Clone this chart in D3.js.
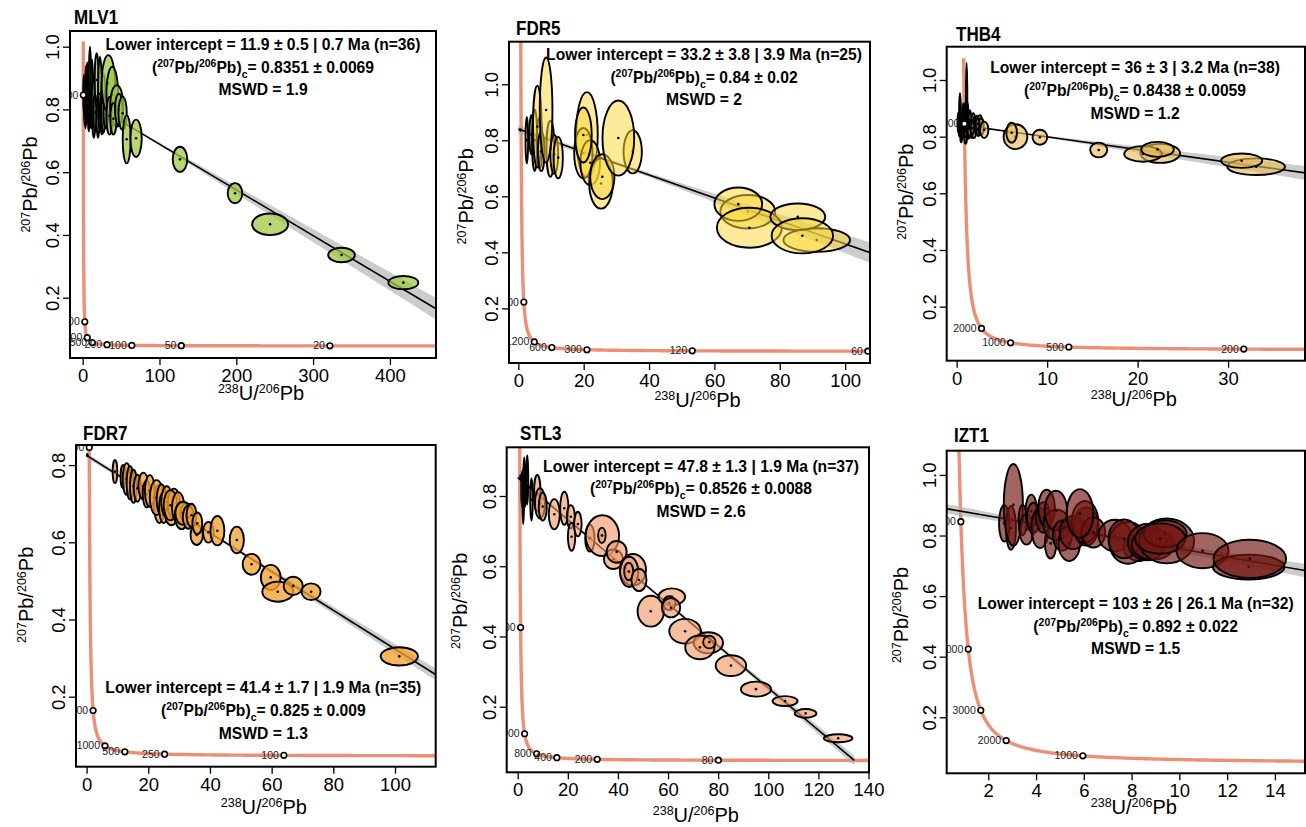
<!DOCTYPE html>
<html>
<head>
<meta charset="utf-8">
<script src="https://cdn.jsdelivr.net/npm/d3@7"></script>
<style>
body { margin: 0; background: #fff; }
svg { font-family: 'Liberation Sans', Arial, Helvetica, sans-serif; }
</style>
</head>
<body>
<svg id="chart" width="1306" height="827"></svg>
<script>
// sample names and fit results
var samples = ["MLV1", "FDR5", "THB4", "FDR7", "STL3", "IZT1"];
var interceptAge = ["11.9", "33.2", "36", "41.4", "47.8", "103"];
var interceptErr = ["0.5", "3.8", "3", "1.7", "1.3", "26"];
var interceptErr2 = ["0.7", "3.9", "3.2", "1.9", "1.9", "26.1"];
var nPoints = [36, 25, 38, 35, 37, 32];
var commonPb = ["0.8351", "0.84", "0.8438", "0.825", "0.8526", "0.892"];
var commonPbErr = ["0.0069", "0.02", "0.0059", "0.009", "0.0088", "0.022"];
var mswd = ["1.9", "2", "1.2", "1.3", "2.6", "1.5"];

// tick labels
var mlv1XTicks = [0, 100, 200, 300, 400];
var fdr5XTicks = [0, 20, 40, 60, 80, 100];
var thb4XTicks = [0, 10, 20, 30];
var fdr7XTicks = [0, 20, 40, 60, 80, 100];
var stl3XTicks = [0, 20, 40, 60, 80, 100, 120, 140];
var izt1XTicks = [2, 4, 6, 8, 10, 12, 14];
var yTicksFull = [0.2, 0.4, 0.6, 0.8, 1.0];
var yTicksShort = [0.2, 0.4, 0.6, 0.8];

// concordia age labels (Ma)
var mlv1Ages = [5000, 2000, 1000, 500, 200, 100, 50, 20];
var fdr5Ages = [3000, 1200, 600, 300, 120, 60];
var thb4Ages = [5000, 2000, 1000, 500, 200];
var fdr7Ages = [5000, 2500, 1000, 500, 250, 100];
var stl3Ages = [4000, 2000, 800, 400, 200, 80];
var izt1Ages = [5000, 4000, 3000, 2000, 1000];

// error ellipses: centre (238U/206Pb, 207Pb/206Pb) and half axes
var mlv1X  = [2, 8, 14.5, 10.5, 1.5, 2.5, 3.7, 4.5, 5.2, 6, 7.4, 9.5, 11, 12, 13.9, 16, 18.2, 20, 22.5, 25, 27, 30, 33.4, 38.5, 35, 44.3, 40, 47, 52, 57.3, 69.5, 126.7, 198.3, 244, 337, 417.5];
var mlv1Y  = [0.86, 0.78, 0.76, 0.84, 0.85, 0.82, 0.79, 0.88, 0.836, 0.86, 0.81, 0.883, 0.80, 0.86, 0.83, 0.79, 0.894, 0.78, 0.85, 0.79, 0.82, 0.80, 0.883, 0.846, 0.78, 0.811, 0.77, 0.80, 0.788, 0.705, 0.708, 0.641, 0.533, 0.434, 0.336, 0.248];
var mlv1Sx = [0.6, 1.2, 1.8, 1.3, 0.8, 0.8, 1, 1, 1.2, 1.2, 1.5, 1.5, 1.5, 1.6, 2, 2, 2.5, 2, 2.5, 2.5, 3, 3, 8.7, 7.6, 4, 8.7, 4, 5, 5.4, 5.2, 7.4, 9.5, 9.5, 23.4, 17.4, 19.5];
var mlv1Sy = [0.04, 0.05, 0.05, 0.07, 0.06, 0.07, 0.05, 0.06, 0.08, 0.09, 0.048, 0.117, 0.06, 0.1, 0.075, 0.06, 0.085, 0.07, 0.117, 0.07, 0.095, 0.06, 0.09, 0.09, 0.06, 0.066, 0.05, 0.05, 0.053, 0.077, 0.0595, 0.04, 0.032, 0.0345, 0.023, 0.021];

var fdr5X  = [0.7, 2.6, 4, 5, 6.5, 5.8, 7, 9.8, 11, 8.5, 12.2, 21, 19.9, 22, 19.9, 25.3, 25.7, 35, 30.6, 70.2, 67.3, 70.7, 91.3, 85.5, 86.9];
var fdr5Y  = [0.837, 0.80, 0.82, 0.80, 0.79, 0.849, 0.76, 0.77, 0.75, 0.908, 0.738, 0.82, 0.754, 0.72, 0.819, 0.646, 0.67, 0.759, 0.808, 0.545, 0.572, 0.488, 0.444, 0.527, 0.459];
var fdr5Sx = [0.15, 0.4, 0.6, 0.8, 0.9, 1.3, 1.0, 1.2, 1.2, 1.94, 1.43, 3.3, 2.8, 3, 2.55, 3.6, 3.7, 2.8, 4.85, 8.4, 7.3, 9.95, 10.2, 8.4, 9.4];
var fdr5Sy = [0.003, 0.083, 0.07, 0.11, 0.09, 0.146, 0.07, 0.10, 0.07, 0.1875, 0.074, 0.152, 0.09, 0.08, 0.098, 0.09, 0.08, 0.077, 0.134, 0.06, 0.0595, 0.0714, 0.042, 0.0476, 0.0625];

var thb4X  = [0.18, 0.37, 0.55, 0.73, 0.92, 1.1, 1.1, 1.29, 1.47, 1.66, 1.84, 2.0, 2.2, 2.4, 2.57, 0.5, 0.8, 1.0, 1.4, 1.9, 2.7, 0.3, 1.2, 0.65, 1.6, 2.3, 1.75, 0.95, 3.05, 6.5, 6.08, 9.2, 15.7, 22.5, 20.6, 22.2, 33.1, 31.5];
var thb4Y  = [0.85, 0.882, 0.828, 0.862, 0.82, 0.925, 0.85, 0.82, 0.855, 0.82, 0.853, 0.84, 0.85, 0.83, 0.85, 0.80, 0.84, 0.80, 0.83, 0.82, 0.835, 0.83, 0.87, 0.84, 0.84, 0.845, 0.83, 0.88, 0.824, 0.80, 0.814, 0.798, 0.753, 0.741, 0.739, 0.755, 0.694, 0.715];
var thb4Sx = [0.08, 0.1, 0.12, 0.1, 0.15, 0.08, 0.15, 0.18, 0.15, 0.2, 0.2, 0.2, 0.2, 0.22, 0.25, 0.1, 0.12, 0.15, 0.2, 0.25, 0.3, 0.08, 0.1, 0.1, 0.15, 0.2, 0.2, 0.1, 0.46, 1.31, 0.59, 0.81, 0.94, 2.2, 2.08, 1.8, 3.19, 2.27];
var thb4Sy = [0.035, 0.071, 0.026, 0.056, 0.03, 0.135, 0.03, 0.028, 0.038, 0.025, 0.03, 0.03, 0.024, 0.028, 0.026, 0.02, 0.04, 0.025, 0.03, 0.025, 0.03, 0.03, 0.05, 0.03, 0.02, 0.02, 0.02, 0.04, 0.029, 0.044, 0.035, 0.0265, 0.026, 0.0335, 0.0277, 0.0265, 0.0294, 0.0253];

var fdr7X  = [0.2, 9.2, 11.8, 13, 14.1, 15.2, 16.5, 18.4, 19.5, 20.5, 23.6, 22.7, 24.3, 25, 26, 27.5, 28.3, 27.2, 29.7, 30.8, 32.4, 31.3, 33, 34, 35.7, 35.9, 39.5, 42.4, 48.7, 53.5, 59.7, 62, 67, 72.8, 101.4];
var fdr7Y  = [0.826, 0.783, 0.77, 0.764, 0.754, 0.745, 0.74, 0.746, 0.725, 0.733, 0.70, 0.716, 0.71, 0.69, 0.705, 0.67, 0.70, 0.696, 0.69, 0.669, 0.675, 0.675, 0.665, 0.67, 0.619, 0.649, 0.626, 0.63, 0.606, 0.543, 0.509, 0.472, 0.487, 0.472, 0.3045];
var fdr7Sx = [0.1, 0.76, 0.8, 1.3, 1.1, 1.1, 1.2, 1.6, 1.3, 1.6, 1.8, 2.2, 1.6, 1.5, 1.8, 2.0, 2.0, 2.2, 2.0, 2.2, 2.0, 2.5, 1.8, 1.6, 2.0, 1.6, 1.73, 2.27, 2.3, 2.9, 3.2, 5.03, 3.1, 3.08, 6.05];
var fdr7Sy = [0.003, 0.03, 0.03, 0.041, 0.043, 0.043, 0.035, 0.0345, 0.035, 0.041, 0.05, 0.045, 0.04, 0.04, 0.04, 0.026, 0.039, 0.039, 0.04, 0.035, 0.026, 0.03, 0.03, 0.03, 0.026, 0.028, 0.027, 0.038, 0.0345, 0.027, 0.0324, 0.026, 0.0237, 0.0216, 0.0237];

var stl3X  = [1.2, 1.7, 2.2, 2.6, 3.0, 3.8, 5.5, 7.8, 8.9, 10, 14.6, 18.6, 21.2, 21.5, 24, 28.8, 33.8, 33.6, 38.2, 39.5, 46, 44.5, 44.3, 48.4, 53.1, 61.5, 60.5, 61.2, 66.8, 76.1, 72.7, 76.5, 85.1, 95.1, 106.7, 114.9, 127.9];
var stl3Y  = [0.855, 0.82, 0.80, 0.86, 0.83, 0.846, 0.79, 0.808, 0.779, 0.77, 0.748, 0.765, 0.741, 0.684, 0.72, 0.68, 0.687, 0.688, 0.62, 0.641, 0.59, 0.584, 0.585, 0.561, 0.472, 0.513, 0.495, 0.482, 0.415, 0.382, 0.369, 0.384, 0.317, 0.25, 0.216, 0.181, 0.110];
var stl3Sx = [0.2, 0.3, 0.35, 0.3, 0.4, 0.4, 0.5, 1.3, 2, 1.6, 2.2, 1.66, 1.6, 1.46, 1.5, 1.86, 6.65, 1.5, 3.8, 4, 5.2, 3.66, 1.8, 3, 5.25, 5.3, 2.5, 3.66, 6.3, 5.85, 5.85, 2.5, 6.1, 6.0, 5.0, 4.3, 5.7];
var stl3Sy = [0.004, 0.05, 0.08, 0.05, 0.06, 0.07, 0.06, 0.052, 0.043, 0.04, 0.043, 0.047, 0.033, 0.04, 0.035, 0.038, 0.058, 0.022, 0.028, 0.031, 0.045, 0.043, 0.025, 0.032, 0.044, 0.024, 0.02, 0.0275, 0.035, 0.03, 0.0337, 0.018, 0.0294, 0.0214, 0.0142, 0.0123, 0.0114];

var izt1X  = [2.67, 2.95, 3.05, 3.44, 3.6, 3.8, 3.89, 4.17, 4.3, 4.44, 4.61, 4.86, 4.83, 5.1, 5.39, 5.55, 6.1, 6.05, 6.4, 5.84, 7.3, 8.3, 7.85, 7.69, 8.65, 8.9, 9.47, 9.4, 9.2, 10.97, 12.9, 12.95];
var izt1Y  = [0.84, 0.825, 0.901, 0.851, 0.82, 0.88, 0.858, 0.825, 0.86, 0.89, 0.774, 0.835, 0.882, 0.80, 0.774, 0.81, 0.83, 0.845, 0.81, 0.873, 0.80, 0.76, 0.776, 0.789, 0.778, 0.77, 0.782, 0.806, 0.79, 0.75, 0.696, 0.723];
var izt1Sx = [0.22, 0.21, 0.4, 0.17, 0.3, 0.24, 0.27, 0.37, 0.3, 0.35, 0.24, 0.56, 0.47, 0.4, 0.45, 0.56, 0.52, 0.56, 0.5, 0.56, 0.68, 0.63, 0.78, 0.66, 0.8, 0.9, 1.15, 0.9, 1.05, 1.09, 1.5, 1.52];
var izt1Sy = [0.06, 0.072, 0.135, 0.05, 0.05, 0.055, 0.05, 0.066, 0.05, 0.061, 0.05, 0.05, 0.066, 0.05, 0.058, 0.055, 0.063, 0.069, 0.05, 0.08, 0.052, 0.044, 0.069, 0.064, 0.06, 0.05, 0.074, 0.044, 0.05, 0.058, 0.041, 0.063];

// decay constants (1/Ma) and 238U/235U for the concordia model
var L238 = 1.55125e-4, L235 = 9.8485e-4, U85 = 137.818;
function concordia(t) {
    var a = Math.expm1(L238 * t), b = Math.expm1(L235 * t);
    return [1 / a, b / a / U85];
}

var FONT = "'Liberation Sans', Arial, Helvetica, sans-serif";

// page layout, one entry per panel
var layout = [
    {box: [70, 31, 436, 358], xDom: [-16.5, 460], yDom: [0.0078, 1.05], xTicks: mlv1XTicks, yTicks: yTicksFull,
     X: mlv1X, Y: mlv1Y, Sx: mlv1Sx, Sy: mlv1Sy, ages: mlv1Ages, fill: "#a2c843", op: 0.75, tMax: 5260,
     title: [74, 24], note: [263, 50], xt: 42, ytx: 33, yty: -10},
    {box: [509, 41.7, 870, 363], xDom: [-2.85, 107.6], yDom: [0.005, 1.152], xTicks: fdr5XTicks, yTicks: yTicksFull,
     X: fdr5X, Y: fdr5Y, Sx: fdr5Sx, Sy: fdr5Sy, ages: fdr5Ages, fill: "#fcd93c", op: 0.52, tMax: 5600,
     title: [516, 35], note: [704, 60], xt: 44, ytx: 36, yty: -6},
    {box: [946.7, 46.7, 1305, 360.7], xDom: [-1.1, 38.5], yDom: [0.0092, 1.1175], xTicks: thb4XTicks, yTicks: yTicksFull,
     X: thb4X, Y: thb4Y, Sx: thb4Sx, Sy: thb4Sy, ages: thb4Ages, fill: "#e6bb57", op: 0.62, tMax: 5340,
     title: [956, 40.7], note: [1135, 73.3], xt: 45, ytx: 34, yty: -12},
    {box: [76, 445, 435.7, 766.7], xDom: [-3.44, 113.2], yDom: [0.0187, 0.852], xTicks: fdr7XTicks, yTicks: yTicksShort,
     X: fdr7X, Y: fdr7Y, Sx: fdr7Sx, Sy: fdr7Sy, ages: fdr7Ages, fill: "#f2a232", op: 0.78, tMax: 5600,
     title: [83, 440], note: [263.3, 693.3], xt: 47, ytx: 42.7, yty: -11},
    {box: [506.7, 447.3, 869, 772.3], xDom: [-4.39, 140.2], yDom: [0.0132, 0.9387], xTicks: stl3XTicks, yTicks: yTicksShort,
     X: stl3X, Y: stl3Y, Sx: stl3Sx, Sy: stl3Sy, ages: stl3Ages, fill: "#f09a66", op: 0.62, tMax: 5600,
     title: [520, 440], note: [701, 471.7], xt: 50, ytx: 40, yty: -9},
    {box: [946.7, 450.7, 1305, 773.3], xDom: [0.26, 15.26], yDom: [0.015, 1.08], xTicks: izt1XTicks, yTicks: yTicksFull,
     X: izt1X, Y: izt1Y, Sx: izt1Sx, Sy: izt1Sy, ages: izt1Ages, fill: "#701610", op: 0.66, tMax: 5600,
     title: [954, 441.7], note: [1135.7, 609], xt: 41, ytx: 38.7, yty: 3}
];

var svg = d3.select("#chart");
var defs = svg.append("defs");

layout.forEach(function(p, i) { drawPanel(p, i); });

function drawPanel(p, i) {
    var l = p.box[0], t = p.box[1], r = p.box[2], b = p.box[3];
    var x = d3.scaleLinear().domain(p.xDom).range([l, r]);
    var y = d3.scaleLinear().domain(p.yDom).range([b, t]);
    var g = svg.append("g");

    defs.append("clipPath").attr("id", "clip" + i)
        .append("rect").attr("x", l).attr("y", t).attr("width", r - l).attr("height", b - t);
    var plot = g.append("g").attr("clip-path", "url(#clip" + i + ")");

    // concordia curve
    var lo = Math.log(0.5), hi = Math.log(p.tMax);
    var curve = d3.range(0, 801).map(function(k) { return concordia(Math.exp(lo + (hi - lo) * k / 800)); });
    plot.append("path")
        .datum(curve)
        .attr("d", d3.line().x(function(d) { return x(Math.min(d[0], 1e5)); }).y(function(d) { return y(d[1]); }))
        .attr("fill", "none")
        .attr("stroke", "#ec8f74")
        .attr("stroke-width", 3.4);

    // discordia line with its error envelope
    var y0 = +commonPb[i], e0 = +commonPbErr[i];
    var lower = concordia(+interceptAge[i]);
    var xInt = lower[0], yInt = lower[1];
    var xc = d3.mean(p.X);
    var sc = 0.4 * e0, ss = Math.sqrt(e0 * e0 - sc * sc) / xc;
    var fit = function(v) { return y0 + (yInt - y0) * v / xInt; };
    var half = function(v) { return 0.75 * Math.sqrt(sc * sc + ss * ss * (v - xc) * (v - xc)); };
    var xs = d3.range(0, 201).map(function(k) { return xInt * k / 200; });

    plot.append("path")
        .datum(xs)
        .attr("d", d3.area()
            .x(function(d) { return x(d); })
            .y0(function(d) { return y(fit(d) - half(d)); })
            .y1(function(d) { return y(fit(d) + half(d)); }))
        .attr("fill", "#aaaaaa")
        .attr("fill-opacity", 0.6);

    plot.append("line")
        .attr("x1", x(0)).attr("y1", y(y0))
        .attr("x2", x(xInt)).attr("y2", y(yInt))
        .attr("stroke", "#000")
        .attr("stroke-width", 1.6);

    // ellipses, each followed by its centre dot
    p.X.forEach(function(cx, k) {
        plot.append("ellipse")
            .attr("cx", x(cx))
            .attr("cy", y(p.Y[k]))
            .attr("rx", x(cx + p.Sx[k]) - x(cx))
            .attr("ry", y(p.Y[k]) - y(p.Y[k] + p.Sy[k]))
            .attr("fill", p.fill)
            .attr("fill-opacity", p.op)
            .attr("stroke", "#000")
            .attr("stroke-width", 1.9);
        plot.append("circle")
            .attr("cx", x(cx))
            .attr("cy", y(p.Y[k]))
            .attr("r", 1.3)
            .attr("fill", "#000");
    });

    // age markers on the concordia
    p.ages.forEach(function(a) {
        var c = concordia(a);
        plot.append("text")
            .attr("x", x(c[0]) - 5)
            .attr("y", y(c[1]) + 3.5)
            .attr("text-anchor", "end")
            .attr("font-size", 10.5)
            .attr("fill", "#222")
            .text(a);
        plot.append("circle")
            .attr("cx", x(c[0]))
            .attr("cy", y(c[1]))
            .attr("r", 2.8)
            .attr("fill", "#fff")
            .attr("stroke", "#000")
            .attr("stroke-width", 1.6);
    });

    // axes
    var xa = g.append("g")
        .attr("transform", "translate(0," + b + ")")
        .call(d3.axisBottom(x).tickValues(p.xTicks).tickSize(7).tickPadding(4).tickFormat(d3.format("d")));
    xa.attr("font-family", FONT).attr("font-size", 18.5);
    xa.select(".domain").remove();
    xa.selectAll("line").attr("stroke", "#000").attr("stroke-width", 1.3);
    xa.selectAll("text").attr("fill", "#000");

    var ya = g.append("g")
        .attr("transform", "translate(" + l + ",0)")
        .call(d3.axisLeft(y).tickValues(p.yTicks).tickSize(7).tickFormat(d3.format(".1f")));
    ya.attr("font-family", FONT).attr("font-size", 18.5);
    ya.select(".domain").remove();
    ya.selectAll("line").attr("stroke", "#000").attr("stroke-width", 1.3);
    ya.selectAll("text")
        .attr("x", null).attr("dy", null)
        .attr("transform", "translate(-11,0) rotate(-90)")
        .attr("text-anchor", "middle")
        .attr("fill", "#000");

    g.append("rect")
        .attr("x", l).attr("y", t).attr("width", r - l).attr("height", b - t)
        .attr("fill", "none").attr("stroke", "#000").attr("stroke-width", 2);

    // axis titles
    var xt = g.append("text")
        .attr("x", (l + r) / 2 + 8).attr("y", b + p.xt)
        .attr("text-anchor", "middle").attr("font-size", 20);
    isoLabel(xt, "238", "U/", "206", "Pb");

    var yt = g.append("text")
        .attr("transform", "translate(" + (l - p.ytx) + "," + ((t + b) / 2 + p.yty) + ") rotate(-90)")
        .attr("text-anchor", "middle").attr("font-size", 20);
    isoLabel(yt, "207", "Pb/", "206", "Pb");

    // sample name
    g.append("text")
        .attr("transform", "translate(" + p.title[0] + "," + p.title[1] + ") scale(0.83,1)")
        .attr("font-size", 20.5).attr("font-weight", "bold")
        .text(samples[i]);

    // fit annotation
    var note = g.append("g")
        .attr("transform", "translate(" + p.note[0] + "," + p.note[1] + ") scale(0.95,1)")
        .attr("font-size", 16.5).attr("font-weight", "bold").attr("text-anchor", "middle");
    note.append("text").attr("y", 0)
        .text("Lower intercept = " + interceptAge[i] + " \u00b1 " + interceptErr[i] + " | " +
              interceptErr2[i] + " Ma (n=" + nPoints[i] + ")");
    var l2 = note.append("text").attr("y", 22.7);
    l2.append("tspan").text("(");
    l2.append("tspan").attr("font-size", 11).attr("dy", -6).text("207");
    l2.append("tspan").attr("dy", 6).text("Pb/");
    l2.append("tspan").attr("font-size", 11).attr("dy", -6).text("206");
    l2.append("tspan").attr("dy", 6).text("Pb)");
    l2.append("tspan").attr("font-size", 11).attr("dy", 5).text("c");
    l2.append("tspan").attr("dy", -5).text("= " + commonPb[i] + " \u00b1 " + commonPbErr[i]);
    note.append("text").attr("y", 45.4).text("MSWD = " + mswd[i]);
}

function isoLabel(sel, a, bTxt, c, d) {
    sel.append("tspan").attr("font-size", 12.5).attr("dy", -7).text(a);
    sel.append("tspan").attr("dy", 7).text(bTxt);
    sel.append("tspan").attr("font-size", 12.5).attr("dy", -7).text(c);
    sel.append("tspan").attr("dy", 7).text(d);
}
</script>
</body>
</html>
